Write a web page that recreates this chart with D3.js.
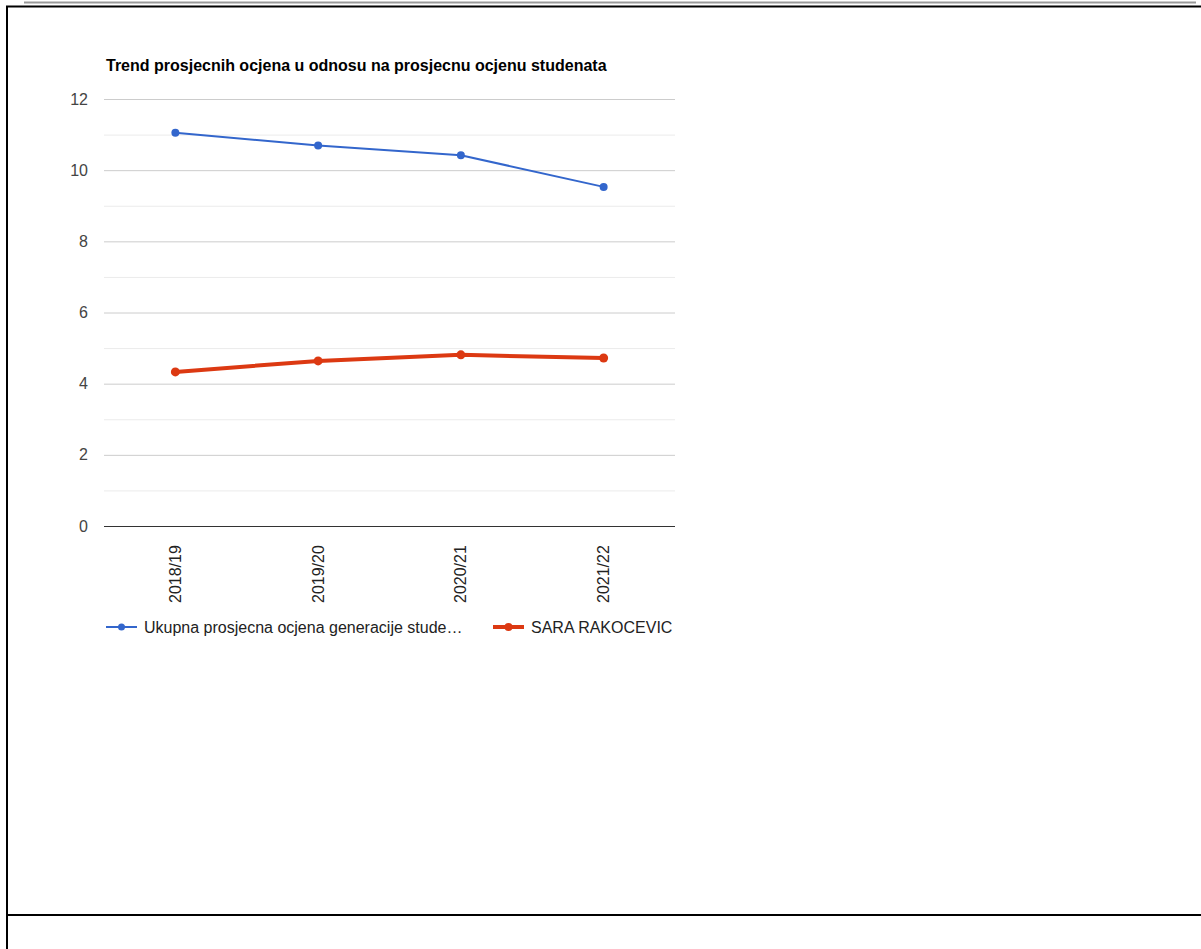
<!DOCTYPE html>
<html>
<head>
<meta charset="utf-8">
<script src="https://cdn.jsdelivr.net/npm/d3@7"></script>
<style>
  body { margin: 0; background: #fff; }
  svg { display: block; font-family: "Liberation Sans", Arial, sans-serif; }
</style>
</head>
<body>
<svg id="chart" width="1201" height="949"></svg>
<script>
const years = ['2018/19', '2019/20', '2020/21', '2021/22']
const generacija = [11.05, 10.69, 10.42, 9.53]
const student = [4.33, 4.64, 4.81, 4.72]
const seriesNames = ['Ukupna prosjecna ocjena generacije studenata', 'SARA RAKOCEVIC']
const yTicks = [0, 2, 4, 6, 8, 10, 12]
const yMinor = [1, 3, 5, 7, 9, 11]

let svg = d3.select('#chart')

// page frame
svg.append('line').attr('x1', 24).attr('x2', 1196).attr('y1', 2.5).attr('y2', 2.5)
    .style('stroke', '#999').style('stroke-width', 2)
svg.append('line').attr('x1', 6).attr('x2', 1201).attr('y1', 6.5).attr('y2', 6.5)
    .style('stroke', '#000').style('stroke-width', 2)
svg.append('line').attr('x1', 7).attr('x2', 7).attr('y1', 6).attr('y2', 949)
    .style('stroke', '#000').style('stroke-width', 2)
svg.append('line').attr('x1', 6).attr('x2', 1201).attr('y1', 915).attr('y2', 915)
    .style('stroke', '#000').style('stroke-width', 2)

let pLeft = 104, pRight = 675, pTop = 99, pBottom = 526

let x = d3.scaleBand().domain(years).range([pLeft, pRight])
let y = d3.scaleLinear().domain([0, 12]).range([pBottom, pTop])
let cx = (d) => x(d) + x.bandwidth() / 2

svg.append('text')
    .attr('x', 106).attr('y', 71)
    .style('font-size', '16px').style('font-weight', 'bold').style('fill', '#000')
    .text('Trend prosjecnih ocjena u odnosu na prosjecnu ocjenu studenata')

// gridlines
svg.append('g').selectAll('line.minor')
    .data(yMinor)
    .join('line')
    .attr('x1', pLeft).attr('x2', pRight)
    .attr('y1', d => y(d) + .5).attr('y2', d => y(d) + .5)
    .style('stroke', '#ebebeb')

let yAxis = svg.append('g')
    .attr('transform', `translate(${pLeft},0)`)
    .call(d3.axisLeft(y).tickValues(yTicks).tickSize(-(pRight - pLeft)).tickPadding(16))
yAxis.select('.domain').remove()
yAxis.selectAll('.tick line')
    .style('stroke', d => d === 0 ? '#333' : '#ccc')
yAxis.selectAll('.tick text')
    .style('font-size', '16px').style('fill', '#444')
    .style('font-family', '"Liberation Sans", Arial, sans-serif')

let xAxis = svg.append('g')
    .attr('transform', `translate(0,${pBottom})`)
    .call(d3.axisBottom(x).tickSize(0))
xAxis.select('.domain').remove()
xAxis.selectAll('.tick text')
    .attr('transform', 'rotate(-90)')
    .attr('x', -77).attr('y', 0).attr('dy', '.35em')
    .style('text-anchor', 'start')
    .style('font-size', '16px').style('fill', '#222')
    .style('font-family', '"Liberation Sans", Arial, sans-serif')

let line = d3.line().x((d, i) => cx(years[i])).y(d => y(d))

let series = [
    {name: seriesNames[0], values: generacija, color: '#3366cc', width: 2, r: 4},
    {name: seriesNames[1], values: student, color: '#dc3912', width: 4, r: 4.5}
]

series.forEach(s => {
    svg.append('path')
        .attr('d', line(s.values))
        .style('fill', 'none')
        .style('stroke', s.color)
        .style('stroke-width', s.width)
        .style('stroke-linejoin', 'round')
    svg.append('g').selectAll('circle')
        .data(s.values)
        .join('circle')
        .attr('cx', (d, i) => cx(years[i]))
        .attr('cy', d => y(d))
        .attr('r', s.r)
        .style('fill', s.color)
})

// legend
let legendX = [106, 493]
let legendText = ['Ukupna prosjecna ocjena generacije stude…', seriesNames[1]]
let lg = svg.append('g').selectAll('g')
    .data(series)
    .join('g')
    .attr('transform', (d, i) => `translate(${legendX[i]},627)`)
lg.append('line')
    .attr('x1', 0).attr('x2', 31)
    .style('stroke', d => d.color)
    .style('stroke-width', d => d.width)
lg.append('circle')
    .attr('cx', 15.5).attr('r', d => d.r - 0.5)
    .style('fill', d => d.color)
lg.append('text')
    .attr('x', 38).attr('dy', '.35em')
    .style('font-size', '16px').style('fill', '#222')
    .text((d, i) => legendText[i])
</script>
</body>
</html>
